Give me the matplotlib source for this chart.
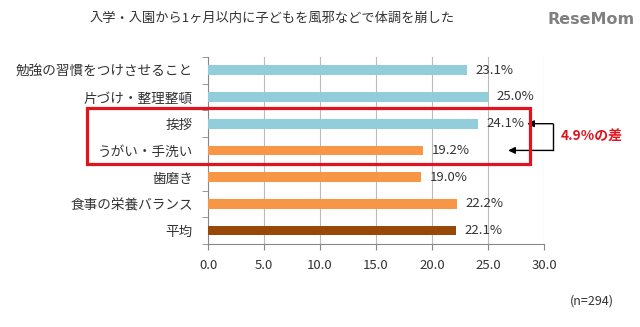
import matplotlib.pyplot as plt
from matplotlib.patches import Rectangle

plt.rcParams['font.family'] = ['Noto Sans CJK JP', 'DejaVu Sans']

labels = ["勉強の習慣をつけさせること", "片づけ・整理整頓", "挨拶", "うがい・手洗い",
          "歯磨き", "食事の栄養バランス", "平均"]
values = [23.1, 25.0, 24.1, 19.2, 19.0, 22.2, 22.1]
colors = ["#92CDDC", "#92CDDC", "#92CDDC", "#F79646", "#F79646", "#F79646", "#984807"]
ticks = [0, 5, 10, 15, 20, 25, 30]

fig = plt.figure(figsize=(6.4, 3.27), dpi=100)
ax = fig.add_axes([0.325, 0.254, 0.525, 0.572])

y = list(range(len(labels)))
ax.barh(y, values, height=0.36, color=colors, zorder=3)
for yi, v in zip(y, values):
    ax.text(v + 0.8, yi, f"{v:.1f}%", va="center", ha="left", fontsize=9.5,
            color="#333333", zorder=4)

ax.set_xlim(0, 30)
ax.set_ylim(len(labels) - 0.5, -0.5)
ax.set_xticks(ticks)
ax.set_xticklabels([f"{t:.1f}" for t in ticks], fontsize=9.5, color="#333333")
ax.set_yticks(y)
ax.set_yticklabels(labels, fontsize=9.8, color="#333333")
ax.tick_params(axis="y", length=0, pad=11)
ax.tick_params(axis="x", length=4, color="#888888", pad=7)
ax.set_yticks([i - 0.5 for i in range(len(labels) + 1)], minor=True)
ax.tick_params(axis="y", which="minor", length=4, color="#888888")
ax.grid(axis="x", color="#BBBBBB", linewidth=0.8, zorder=0)
for s in ["top", "right"]:
    ax.spines[s].set_visible(False)
ax.spines["left"].set_color("#888888")
ax.spines["bottom"].set_color("#888888")

# red box around 挨拶 / うがい・手洗い
ax.add_patch(Rectangle((-10.8, 3.5), 39.55, -2.1, fill=False, edgecolor="#E0141E",
                       linewidth=2.3, clip_on=False, zorder=5))

# difference bracket
xb = 30.8
ax.plot([xb, xb], [2, 3], color="black", linewidth=1, clip_on=False)
ax.annotate("", xy=(28.5, 2), xytext=(xb, 2),
            arrowprops=dict(arrowstyle="-|>", color="black", lw=1, shrinkA=0, shrinkB=0),
            annotation_clip=False)
ax.annotate("", xy=(26.8, 3), xytext=(xb, 3),
            arrowprops=dict(arrowstyle="-|>", color="black", lw=1, shrinkA=0, shrinkB=0),
            annotation_clip=False)
ax.text(31.5, 2.5, "4.9%の差", color="#E0141E", fontsize=10, fontweight="bold",
        va="center", ha="left")

fig.text(0.425, 0.945, "入学・入園から1ヶ月以内に子どもを風邪などで体調を崩した",
         ha="center", va="center", fontsize=9.5, color="#333333")
fig.text(0.923, 0.94, "ReseMom", ha="center", va="center", fontsize=11.5,
         fontweight="bold", color="#808080", family="DejaVu Sans")
fig.text(0.925, 0.08, "(n=294)", ha="center", va="center", fontsize=9, color="#333333")

fig.savefig("out.png", dpi=100)
